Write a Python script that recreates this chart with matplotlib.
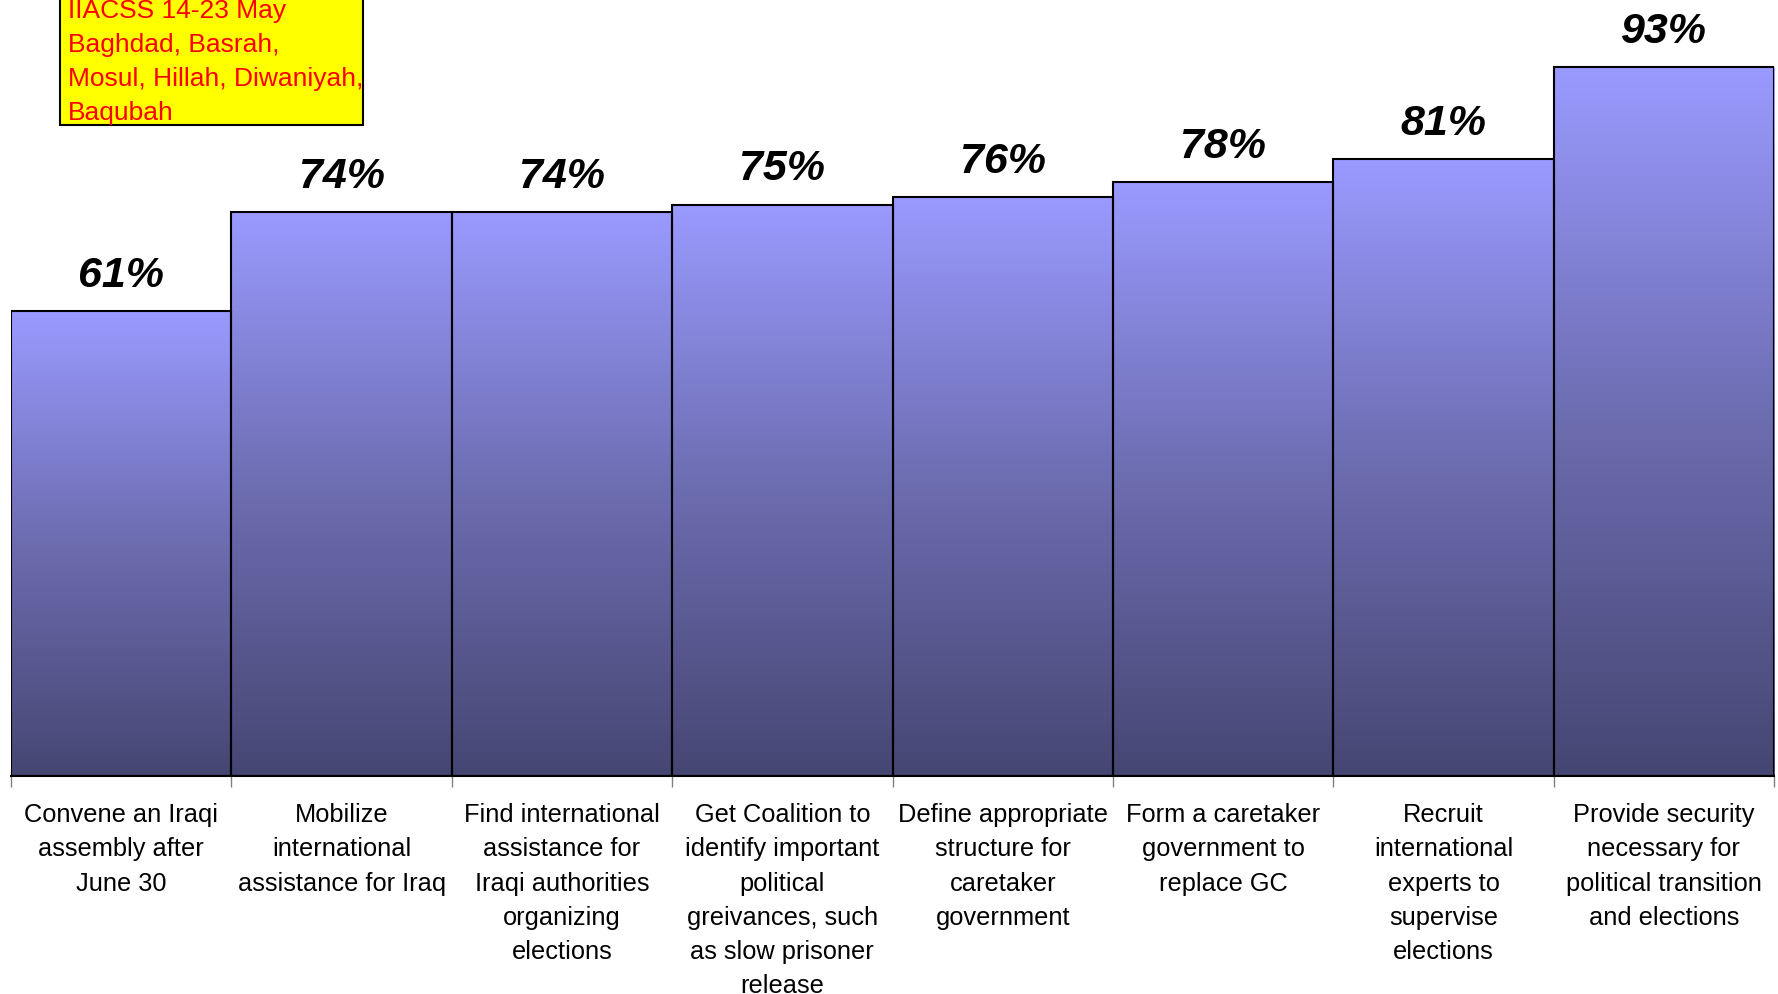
import numpy as np
import matplotlib
matplotlib.use("Agg")
from matplotlib import pyplot as plt
from matplotlib.colors import LinearSegmentedColormap
from matplotlib.patches import Rectangle

categories = [
    "Convene an Iraqi\nassembly after\nJune 30",
    "Mobilize\ninternational\nassistance for Iraq",
    "Find international\nassistance for\nIraqi authorities\norganizing\nelections",
    "Get Coalition to\nidentify important\npolitical\ngreivances, such\nas slow prisoner\nrelease",
    "Define appropriate\nstructure for\ncaretaker\ngovernment",
    "Form a caretaker\ngovernment to\nreplace GC",
    "Recruit\ninternational\nexperts to\nsupervise\nelections",
    "Provide security\nnecessary for\npolitical transition\nand elections",
]
values = [61, 74, 74, 75, 76, 78, 81, 93]
note_lines = ["IIACSS 14-23 May", "Baghdad, Basrah,", "Mosul, Hillah, Diwaniyah,", "Baqubah"]

plt.rcParams["font.family"] = ["Liberation Sans", "DejaVu Sans"]

W, H = 1778, 995
fig = plt.figure(figsize=(W / 100, H / 100), dpi=100)
ax = fig.add_axes([11 / W, 1 - 777 / H, (1774 - 11) / W, (777 - 15) / H])

x = np.arange(len(values))
bars = ax.bar(x, values, width=1.0, facecolor="none", edgecolor="black",
              linewidth=1.5, zorder=3)

# vertical gradient in each bar, light at the top and dark at the bottom
cmap = LinearSegmentedColormap.from_list("bar", ["#464673", "#6c6cb0", "#9a9aff"])
grad = np.linspace(0, 1, 256).reshape(-1, 1)
for b in bars:
    x0, w, h = b.get_x(), b.get_width(), b.get_height()
    ax.imshow(grad, cmap=cmap, origin="lower", aspect="auto",
              extent=(x0, x0 + w, 0, h), zorder=2)

for b, v in zip(bars, values):
    ax.annotate(f"{v}%", (b.get_x() + b.get_width() / 2, b.get_height()),
                xytext=(0, 18), textcoords="offset points", ha="center",
                va="baseline", fontsize=31, fontweight="bold", style="italic",
                annotation_clip=False)

ax.set_xlim(-0.5, len(values) - 0.5)
ax.set_ylim(0, 100)
ax.set_yticks([])
for s in ["top", "right", "left"]:
    ax.spines[s].set_visible(False)
ax.spines["bottom"].set_linewidth(1.5)
ax.spines["bottom"].set_zorder(4)

ax.set_xticks(x)
ax.set_xticklabels(categories, fontsize=18.3, linespacing=1.53, va="top")
ax.tick_params(axis="x", which="major", length=0, pad=19)
ax.set_xticks(np.arange(len(values) + 1) - 0.5, minor=True)
ax.tick_params(axis="x", which="minor", length=8, width=1, color="#808080")

# yellow note box in the top-left corner
fig.patches.append(Rectangle((60 / W, 1 - 126 / H), (363 - 60) / W, 140 / H,
                             transform=fig.transFigure, facecolor="#ffff00",
                             edgecolor="black", linewidth=1.5, zorder=5))
for i, line in enumerate(note_lines):
    fig.text(68 / W, 1 - (18 + 34 * i) / H, line, color="#ff0000", fontsize=19,
             va="baseline", ha="left", zorder=6)

fig.savefig("out.png", dpi=100)
